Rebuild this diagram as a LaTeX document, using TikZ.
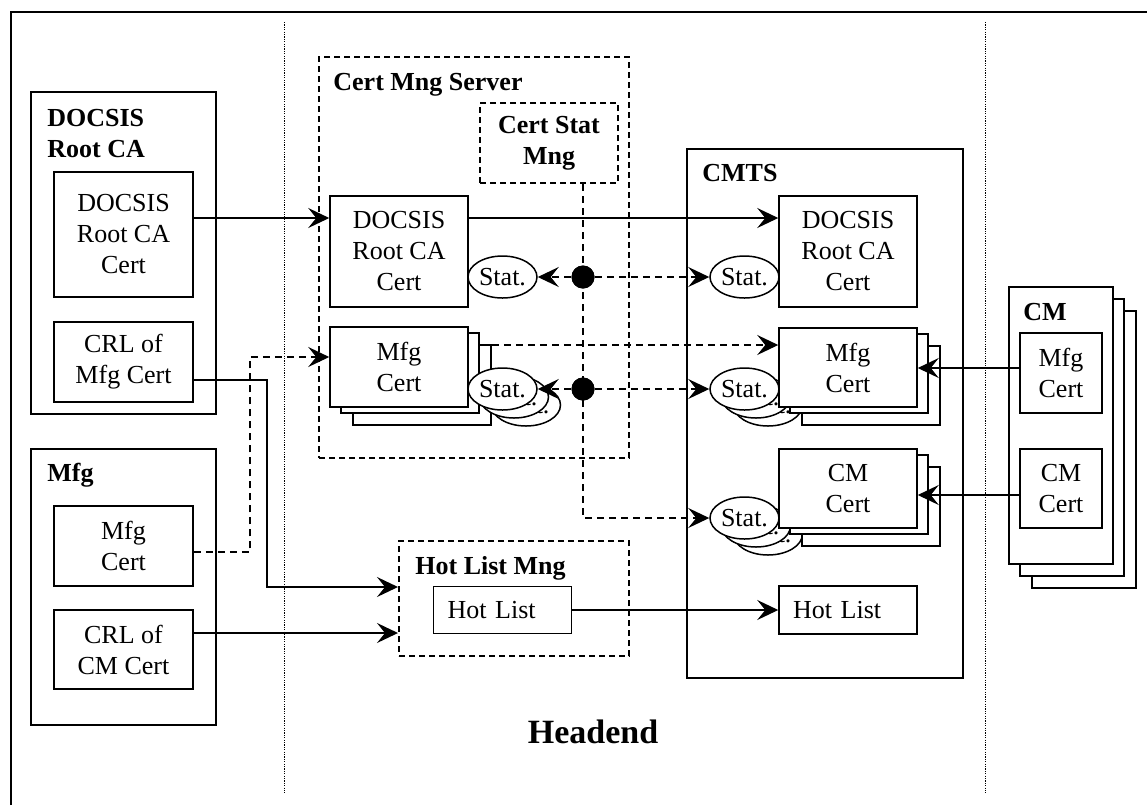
\documentclass[tikz,border=0pt]{standalone}
\usepackage{fontspec}
\setmainfont{Liberation Serif}
\usetikzlibrary{arrows.meta,shapes.geometric}
\tikzset{
  txt/.style={font=\fontsize{13}{15.5}\selectfont},
  cert/.style={draw, fill=white, line width=0.75pt, align=center, inner sep=0pt, txt},
  hotbox/.style={draw, fill=white, line width=0.75pt, align=left, inner xsep=7pt, inner ysep=0pt, text width=55pt, minimum height=24pt, txt},
  grp/.style={draw, line width=0.75pt, inner sep=0pt},
  dgrp/.style={draw, line width=1pt, dash pattern=on 3pt off 2pt, inner sep=0pt},
  lbl/.style={anchor=north west, inner sep=0pt, align=left, font=\bfseries\fontsize{13}{15.5}\selectfont},
  stat/.style={ellipse, draw, fill=white, line width=0.75pt, inner sep=0pt, minimum width=34.5pt, minimum height=21pt, txt},
  dotnode/.style={circle, fill=black, inner sep=0pt, minimum size=11.5pt},
  conn/.style={line width=0.7pt, -{Stealth[length=10.5pt,width=10pt,inset=4pt]}},
  dconn/.style={conn, dash pattern=on 3.5pt off 2.5pt},
}
\begin{document}
\begin{tikzpicture}[x=0.5pt, y=-0.5pt]
\useasboundingbox (0,0) rectangle (1147,805);

% frame and separators
\draw[line width=0.8pt] (11,805) -- (11,12) -- (1147,12);
\draw[line width=0.5pt, dash pattern=on 0.6pt off 0.6pt] (284,22) -- (284,793);
\draw[line width=0.5pt, dash pattern=on 0.6pt off 0.6pt] (985,22) -- (985,793);

% group boxes
\node[grp, minimum width=92.5pt, minimum height=161pt] (rootca) at (123.5,253) {};
\node[lbl] (rootcalbl) at (47,109) {DOCSIS\\Root CA};
\node[grp, minimum width=92.5pt, minimum height=138pt] (mfg) at (123.5,587) {};
\node[lbl] (mfglbl) at (47,463) {Mfg};
\node[dgrp, minimum width=155pt, minimum height=200.5pt] (cms) at (474,257.5) {};
\node[lbl] (cmslbl) at (333,73) {Cert Mng Server};
\node[dgrp, minimum width=69pt, minimum height=40pt, align=center, font=\bfseries\fontsize{13}{15.5}\selectfont] (csm) at (549,143) {Cert Stat\\Mng};
\node[grp, minimum width=138pt, minimum height=264.5pt] (cmts) at (825,413.5) {};
\node[lbl] (cmtslbl) at (702,164) {CMTS};
\node[dgrp, minimum width=115pt, minimum height=57.5pt] (hlm) at (514,598.5) {};
\node[lbl] (hlmlbl) at (415,556) {Hot List Mng};
\node[grp, fill=white, minimum width=52pt, minimum height=138.5pt] (cmC) at (1084,449.5) {};
\node[grp, fill=white, minimum width=52pt, minimum height=138.5pt] (cmB) at (1072,437.5) {};
\node[grp, fill=white, minimum width=52pt, minimum height=138.5pt] (cm) at (1061,425.5) {};
\node[lbl] (cmlbl) at (1023,303) {CM};

% left side certs
\node[cert, minimum width=69.5pt, minimum height=62.5pt] (rcert) at (123.5,234.5) {DOCSIS\\Root CA\\Cert};
\node[cert, minimum width=69.5pt, minimum height=40pt] (crlmfg) at (123.5,362) {CRL of\\Mfg Cert};
\node[cert, minimum width=69.5pt, minimum height=40pt] (mfgcert) at (123.5,546) {Mfg\\Cert};
\node[cert, minimum width=69.5pt, minimum height=39.5pt] (crlcm) at (123.5,649.5) {CRL of\\CM Cert};

% CMTS back status ellipses (behind cert boxes)
\node[stat] (s4C) at (768,405) {Stat.};
\node[stat] (s4B) at (756,397) {Stat.};
\node[stat] (s5C) at (768,534) {Stat.};
\node[stat] (s5B) at (756,526) {Stat.};

% Cert Mng Server certs
\node[cert, minimum width=69pt, minimum height=55.5pt] (cmsroot) at (399,251.5) {DOCSIS\\Root CA\\Cert};
\node[cert, minimum width=69pt, minimum height=40pt] (cmsmfgC) at (422,385) {};
\node[cert, minimum width=69pt, minimum height=40pt] (cmsmfgB) at (410,373) {};
\node[cert, minimum width=69pt, minimum height=40pt] (cmsmfg) at (399,367) {Mfg\\Cert};

% CMTS certs
\node[cert, minimum width=69pt, minimum height=55.5pt] (cmtsroot) at (848,251.5) {DOCSIS\\Root CA\\Cert};
\node[cert, minimum width=69pt, minimum height=39.5pt] (cmtsmfgC) at (871,385.5) {};
\node[cert, minimum width=69pt, minimum height=39.5pt] (cmtsmfgB) at (859,373.5) {};
\node[cert, minimum width=69pt, minimum height=39.5pt] (cmtsmfg) at (848,367.5) {Mfg\\Cert};
\node[cert, minimum width=69pt, minimum height=39.5pt] (cmtscmC) at (871,506.5) {};
\node[cert, minimum width=69pt, minimum height=39.5pt] (cmtscmB) at (859,494.5) {};
\node[cert, minimum width=69pt, minimum height=39.5pt] (cmtscm) at (848,488.5) {CM\\Cert};
\node[hotbox] (cmtshot) at (848,610) {Hot List};

% Hot list mng
\node[hotbox, minimum height=23.5pt] (hl) at (502.5,610) {Hot List};

% CM certs
\node[cert, minimum width=41pt, minimum height=40pt] (cmmfg) at (1061,373) {Mfg\\Cert};
\node[cert, minimum width=41pt, minimum height=39.5pt] (cmcm) at (1061,488.5) {CM\\Cert};

% CMS status ellipses
\node[stat] (s2C) at (526,405) {Stat.};
\node[stat] (s2B) at (514,397) {Stat.};
\node[stat] (s1) at (502.5,277) {Stat.};
\node[stat] (s2) at (502.5,389) {Stat.};
\node[stat] (s3) at (744.5,277) {Stat.};
\node[stat] (s4) at (744.5,389) {Stat.};
\node[stat] (s5) at (744.5,518) {Stat.};

% helper coordinates
\coordinate (yroot) at (0,218);
\coordinate (ymfgout) at (0,552);
\coordinate (bendA) at (250,357);
\coordinate (ycrlmfg) at (0,380);
\coordinate (bendB) at (267,587);
\coordinate (ycrlcm) at (0,633);
\coordinate (ymfgline) at (0,345);
\coordinate (ycmmfg) at (0,368);
\coordinate (ycmcm) at (0,495);

% connectors
\draw[conn] (rcert.east |- yroot) -- (cmsroot.west |- yroot);
\draw[conn] (cmsroot.east |- yroot) -- (cmtsroot.west |- yroot);
\draw[dconn] (mfgcert.east |- ymfgout) -| (bendA) -- (cmsmfg.west |- bendA);
\draw[conn] (crlmfg.east |- ycrlmfg) -| (bendB) -- (hlm.west |- bendB);
\draw[conn] (crlcm.east |- ycrlcm) -- (hlm.west |- ycrlcm);
\draw[conn] (hl.east) -- (cmtshot.west);
\draw[dconn] (cmsmfgB.east |- ymfgline) -- (cmtsmfg.west |- ymfgline);
\draw[conn] (cmmfg.west |- ycmmfg) -- (cmtsmfg.east |- ycmmfg);
\draw[conn] (cmcm.west |- ycmcm) -- (cmtscm.east |- ycmcm);

\node[dotnode] (dot1) at (583,277) {};
\node[dotnode] (dot2) at (583,389) {};
\draw[dconn] (csm.south -| dot1) |- (s5.west);
\draw[dconn] (dot1) -- (s1);
\draw[dconn] (dot1) -- (s3);
\draw[dconn] (dot2) -- (s2);
\draw[dconn] (dot2) -- (s4);
\node[dotnode] at (dot1) {};
\node[dotnode] at (dot2) {};

\node[font=\bfseries\fontsize{17}{20}\selectfont, inner sep=0pt] (headend) at (593,732) {Headend};
\end{tikzpicture}
\end{document}
